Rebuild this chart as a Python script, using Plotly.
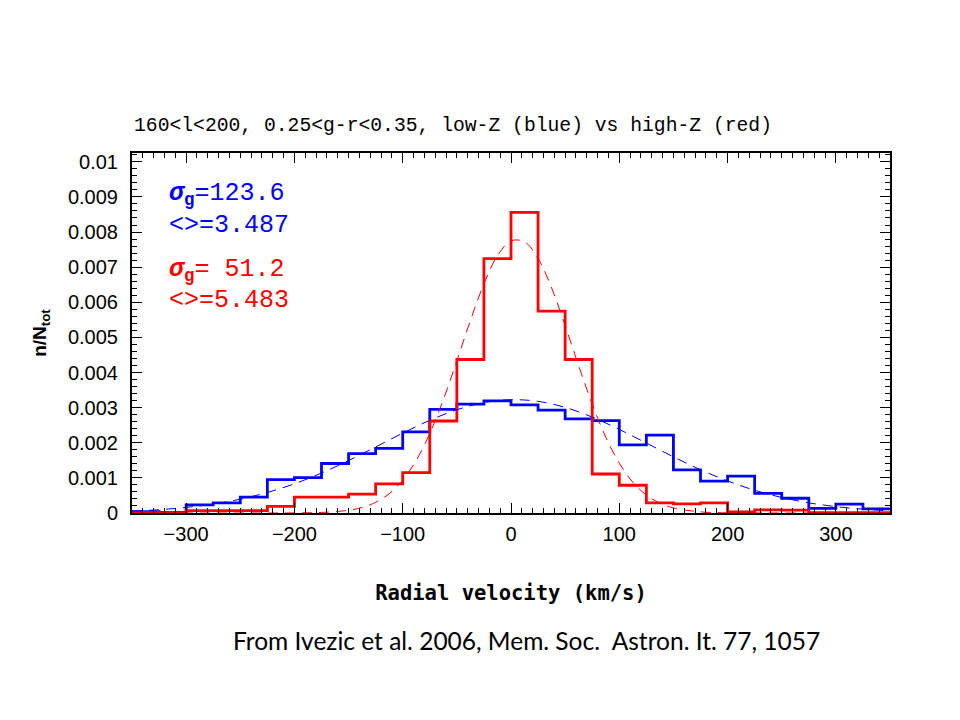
import plotly.graph_objects as go

# ---- data ----
bin_edges = [-350, -325, -300, -275, -250, -225, -200, -175, -150, -125, -100, -75, -50, -25,
             0, 25, 50, 75, 100, 125, 150, 175, 200, 225, 250, 275, 300, 325, 350]

blue_hist = [0.00004, 0.00002, 0.00023, 0.00029, 0.00045, 0.00095, 0.00101, 0.00141,
             0.00169, 0.00184, 0.00231, 0.00295, 0.00310, 0.00319, 0.00308, 0.00293,
             0.00268, 0.00263, 0.00194, 0.00222, 0.00123, 0.00091, 0.00105, 0.00056,
             0.00042, 0.00013, 0.00025, 0.00012]

red_hist = [0.00001, 0.00001, 0.00007, 0.00007, 0.00007, 0.00019, 0.00045, 0.00045,
            0.00054, 0.00083, 0.00115, 0.00262, 0.00437, 0.00724, 0.00856, 0.00575,
            0.00437, 0.00111, 0.00079, 0.00029, 0.00026, 0.00029, 0.00003, 0.00009,
            0.00008, 0.00001, 0.00001, 0.00001]

blue_fit_x = [-350, -325, -300, -275, -250, -225, -200, -175, -150, -125, -100, -75, -50, -25,
              0, 25, 50, 75, 100, 125, 150, 175, 200, 225, 250, 275, 300, 325, 350]
blue_fit_y = [0.000054, 0.000094, 0.000159, 0.000255, 0.000394, 0.000585, 0.000832, 0.001138,
              0.001493, 0.001880, 0.002273, 0.002638, 0.002939, 0.003143, 0.003226, 0.003179,
              0.003007, 0.002730, 0.002380, 0.001991, 0.001599, 0.001232, 0.000912, 0.000648,
              0.000442, 0.000289, 0.000182, 0.000110, 0.000063]

red_fit_x = [-350, -300, -250, -200, -175, -150, -137.5, -125, -112.5, -100, -87.5, -75, -62.5,
             -50, -37.5, -25, -12.5, 0, 12.5, 25, 37.5, 50, 62.5, 75, 87.5, 100, 112.5, 125,
             137.5, 150, 175, 200, 250, 300, 350]
red_fit_y = [0.0, 0.0, 0.0, 0.0000025, 0.0000156, 0.0000775, 0.000158, 0.000303, 0.000548,
             0.000933, 0.001498, 0.002265, 0.003227, 0.004332, 0.005478, 0.006526, 0.007326,
             0.007747, 0.007719, 0.007246, 0.006408, 0.005339, 0.004192, 0.003100, 0.002160,
             0.001418, 0.000877, 0.000511, 0.000281, 0.000145, 0.0000325, 0.0000057, 0.0, 0.0, 0.0]

x_tickvals = [-300, -200, -100, 0, 100, 200, 300]
y_tickvals = [0, 0.001, 0.002, 0.003, 0.004, 0.005, 0.006, 0.007, 0.008, 0.009, 0.01]
y_ticktext = ["0", "0.001", "0.002", "0.003", "0.004", "0.005", "0.006", "0.007", "0.008",
              "0.009", "0.01"]

title_text = "160<l<200, 0.25<g-r<0.35, low-Z (blue) vs high-Z (red)"
caption_text = "From Ivezic et al. 2006, Mem. Soc.\u00a0\u00a0Astron. It. 77, 1057"
blue_sigma, blue_mean = "123.6", "3.487"
red_sigma, red_mean = "\u00a051.2", "5.483"

BLUE = "#0000ff"
RED = "#ff0000"
MONO = "Liberation Mono"
SANS = "Liberation Sans"

fig = go.Figure()

def step_y(vals):
    return list(vals) + [vals[-1]]

fig.add_trace(go.Scatter(x=bin_edges, y=step_y(blue_hist), mode="lines", line_shape="hv",
                         line=dict(color=BLUE, width=2.8), showlegend=False, hoverinfo="skip"))
fig.add_trace(go.Scatter(x=bin_edges, y=step_y(red_hist), mode="lines", line_shape="hv",
                         line=dict(color=RED, width=2.8), showlegend=False, hoverinfo="skip"))
fig.add_trace(go.Scatter(x=blue_fit_x, y=blue_fit_y, mode="lines", line_shape="spline",
                         line=dict(color=BLUE, width=1, dash="10px,7px"), showlegend=False,
                         hoverinfo="skip"))
fig.add_trace(go.Scatter(x=red_fit_x, y=red_fit_y, mode="lines", line_shape="spline",
                         line=dict(color=RED, width=1, dash="10px,7px"), showlegend=False,
                         hoverinfo="skip"))

axis_common = dict(showline=True, linecolor="black", linewidth=2, mirror="allticks",
                   ticks="inside", tickcolor="black", tickwidth=1.2, ticklen=10,
                   showgrid=False, zeroline=False)

fig.update_xaxes(range=[-350, 350], tickvals=x_tickvals, **axis_common,
                 minor=dict(ticks="inside", dtick=10, ticklen=5, tickcolor="black", tickwidth=1.2),
                 tickfont=dict(family=SANS, size=20, color="black"), ticklabelstandoff=2,
                 title=dict(text="<b>Radial velocity (km/s)</b>", standoff=42,
                            font=dict(family="DejaVu Sans Mono", size=20.5, color="black")))
fig.update_yaxes(range=[0, 0.01025], tickvals=y_tickvals, ticktext=y_ticktext, **axis_common,
                 minor=dict(ticks="inside", dtick=0.0002, ticklen=5, tickcolor="black", tickwidth=1.2),
                 tickfont=dict(family=SANS, size=20, color="black"), ticklabelstandoff=8,
                 title=dict(text="<b>n/N<sub>tot</sub></b>", standoff=16,
                            font=dict(family=SANS, size=19, color="black")))

def ann(text, x, y, color, size, family=MONO, **kw):
    d = dict(text=text, x=x, y=y, showarrow=False, font=dict(family=family, size=size, color=color))
    d.update(kw)
    fig.add_annotation(**d)

ann("<b><i>σ</i><sub>g</sub></b>=" + blue_sigma, 0.046, 0.885, BLUE, 25,
    xref="paper", yref="paper", xanchor="left", yanchor="middle")
ann("<>=" + blue_mean, 0.046, 0.80, BLUE, 25, xref="paper", yref="paper",
    xanchor="left", yanchor="middle")
ann("<b><i>σ</i><sub>g</sub></b>=" + red_sigma, 0.046, 0.675, RED, 25,
    xref="paper", yref="paper", xanchor="left", yanchor="middle")
ann("<>=" + red_mean, 0.046, 0.59, RED, 25, xref="paper", yref="paper",
    xanchor="left", yanchor="middle")

ann(title_text, 0.0, 1.075, "black", 19.7, xref="paper", yref="paper", xanchor="left",
    yanchor="middle")
ann(caption_text, 0.52, -0.355, "black", 24.5, family="Lato", xref="paper", yref="paper",
    xanchor="center", yanchor="middle")

# page body has an 8px default margin, so the figure starts at (8, 8)
fig.update_layout(width=960, height=720, margin=dict(l=124, r=78, t=145, b=215),
                  plot_bgcolor="white", paper_bgcolor="white")

fig.write_html("out.html")
